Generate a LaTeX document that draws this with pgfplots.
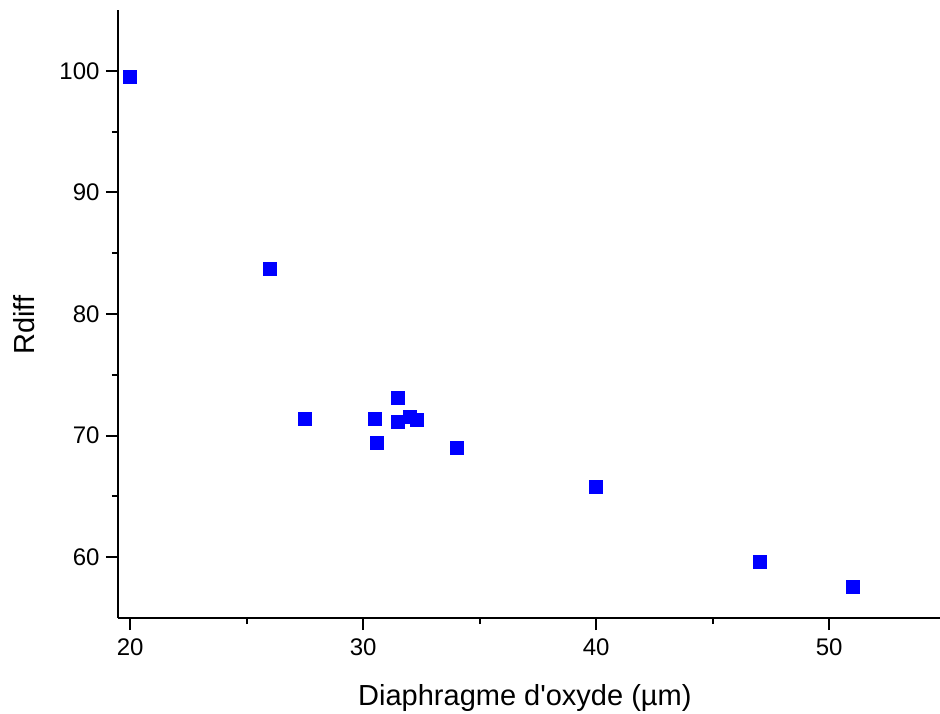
\documentclass[border=0pt]{standalone}
\usepackage{fontspec}
\setmainfont{Liberation Sans}[Ligatures=TeXOff]
\usepackage{pgfplots}
\pgfplotsset{compat=1.18}
\begin{document}
\begin{tikzpicture}
\useasboundingbox (0,0) rectangle (940pt,713pt);
\begin{axis}[
  at={(118pt,95pt)}, anchor=south west,
  scale only axis,
  width=822pt, height=608pt,
  xmin=19.48, xmax=54.76,
  ymin=55, ymax=105,
  axis x line=bottom, axis y line=left,
  axis line style={-, line width=2pt, black},
  xtick={20,30,40,50}, ytick={60,70,80,90,100},
  minor x tick num=1, minor y tick num=1,
  tick align=outside,
  tick style={black, line width=2pt},
  major tick length=12pt, minor tick length=6pt,
  tick label style={font=\fontsize{24}{26}\selectfont},
  /pgf/number format/assume math mode=true,
  xticklabel style={yshift=-5pt},
  yticklabel style={xshift=-3pt},
  xlabel={Diaphragme d'oxyde (µm)},
  ylabel={Rdiff},
  label style={font=\fontsize{29}{32}\selectfont},
  xlabel style={at={(axis description cs:0.495,0)}, anchor=base, yshift=-87pt},
  ylabel style={at={(axis description cs:-0.101,0.482)}, anchor=base},
  clip=false,
]
\addplot[only marks, mark=square*, mark size=6.5pt, color=blue, mark options={fill=blue, draw=blue}]
coordinates {
(20,99.5)
(26,83.7)
(27.5,71.35)
(30.5,71.4)
(30.6,69.4)
(31.5,73.1)
(31.5,71.15)
(32,71.55)
(32.3,71.3)
(34,69.0)
(40,65.8)
(47,59.6)
(51,57.55)
};
\end{axis}
\end{tikzpicture}
\end{document}
